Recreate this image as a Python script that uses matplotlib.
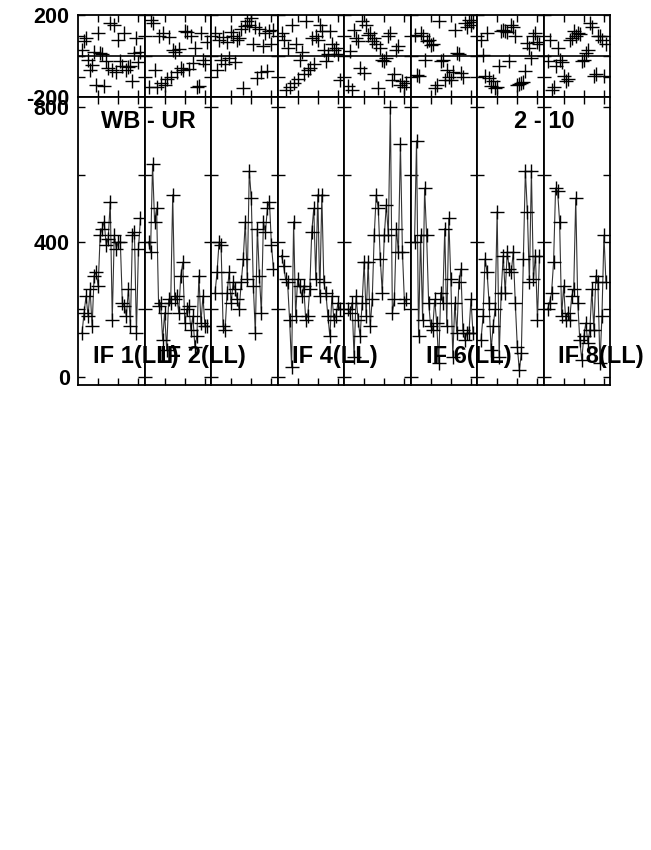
import matplotlib
matplotlib.use("Agg")
import matplotlib.pyplot as plt
import numpy as np

plt.rcParams['font.family'] = ['Liberation Sans', 'DejaVu Sans']
plt.rcParams['font.weight'] = 'bold'

channels = list(range(2, 32))

amp_if1 = [130, 190, 240, 180, 260, 150, 300, 310, 270, 420, 440, 460, 390, 410, 520,
           170, 420, 380, 400, 400, 220, 210, 180, 260, 150, 420, 430, 130, 380, 470]
amp_if2 = [400, 370, 630, 460, 500, 210, 220, 110, 190, 80, 230, 220, 540, 230, 240,
           190, 300, 340, 160, 200, 210, 140, 180, 90, 120, 300, 160, 240, 150, 150]
amp_if3 = [250, 310, 400, 390, 150, 140, 250, 310, 220, 280, 260, 230, 200, 280, 350,
           460, 290, 610, 530, 270, 130, 440, 300, 190, 460, 430, 500, 520, 390, 320]
amp_if4 = [360, 330, 290, 280, 170, 30, 460, 180, 290, 270, 240, 270, 170, 180, 260,
           430, 500, 290, 540, 240, 540, 280, 250, 180, 120, 240, 170, 180, 220, 200]
amp_if5 = [200, 190, 220, 60, 240, 170, 120, 220, 340, 180, 340, 150, 230, 420, 540,
           500, 350, 250, 420, 510, 420, 800, 190, 230, 440, 370, 690, 370, 220, 230]
amp_if6 = [400, 700, 120, 420, 170, 560, 420, 220, 150, 140, 230, 160, 40, 250, 220,
           440, 150, 470, 290, 60, 220, 130, 280, 320, 140, 110, 130, 130, 230, 130]
amp_if7 = [110, 180, 350, 310, 220, 80, 150, 200, 490, 60, 250, 360, 250, 370, 320,
           310, 370, 220, 90, 20, 70, 350, 610, 490, 280, 610, 290, 360, 170, 360]
amp_if8 = [200, 220, 250, 340, 560, 550, 460, 180, 270, 170, 190, 170, 240, 260, 530,
           220, 110, 50, 120, 160, 100, 140, 260, 140, 300, 280, 40, 180, 420, 280]

ph_if1 = [31, 72, 88, -20, -67, -42, 20, -140, 112, 15, 10, -148, -26, -60, 161,
          -67, 153, -80, 80, -26, -50, 112, -70, -55, -50, -120, 15, 88, -30, 20]
ph_if2 = [-150, 175, 160, -70, -150, 100, -130, 112, -140, -110, 95, -100, 31, 20, -80,
          35, -60, -70, 120, 115, -65, 100, -35, 40, -150, -145, 110, -20, -40, 70]
ph_if3 = [112, -67, 80, -18, 95, -40, 70, -10, 115, 100, -30, 80, 90, 130, -156,
          145, 170, 150, 185, 60, 140, -107, 130, -80, 50, 110, -75, 120, 60, 125]
ph_if4 = [110, 80, -165, 40, -150, 150, -130, 60, -110, -20, 20, -90, 170, -70, -60,
          90, -40, 100, 80, 150, 120, 30, -25, 10, 120, 60, 30, 40, 10, -115]
ph_if5 = [-148, 23, -164, 128, 90, 72, -60, 169, -83, 150, 104, 110, 72, 90, 60,
          -156, 39, -18, -25, -10, 96, 110, -115, -90, 31, 50, -140, -120, -150, -130]
ph_if6 = [104, -91, -99, 112, 100, -18, 72, 80, 55, 60, -156, -140, 169, -26, -20,
          -115, -67, -100, -115, -80, 128, 15, 10, -83, -100, 161, 140, 177, 150, 165]
ph_if7 = [80, 7, -99, 112, -107, -148, -120, -156, -150, -50, 120, 128, 120, 115, -26,
          153, 140, 96, -140, -135, -130, -125, -75, 63, 40, -10, 96, 110, 70, 60]
ph_if8 = [-26, 80, -164, -150, -50, 39, -18, -30, -99, -124, -110, 80, 90, 120, 100,
          112, 105, -26, -20, 15, 30, 161, 140, -99, -90, 96, 100, 80, -99, 60]

amps = [amp_if1, amp_if2, amp_if3, amp_if4, amp_if5, amp_if6, amp_if7, amp_if8]
phases = [ph_if1, ph_if2, ph_if3, ph_if4, ph_if5, ph_if6, ph_if7, ph_if8]
if_labels = ["IF 1(LL)", "IF 2(LL)", "", "IF 4(LL)", "", "IF 6(LL)", "", "IF 8(LL)"]

amp_ticks = [0, 200, 400, 600, 800]
amp_ticklabels = ["0", "", "400", "", "800"]
ph_ticks = [-200, -100, 0, 100, 200]
ph_ticklabels = ["-200", "", "", "", "200"]
x_ticks = [10, 20, 30]

W, H = 651, 850
fig = plt.figure(figsize=(W / 100, H / 100), dpi=100)

left_px, right_px = 78, 610
pw = (right_px - left_px) / 8
top_ph, bot_ph = 15, 97
top_amp, bot_amp = 97, 385

def style(ax):
    for s in ax.spines.values():
        s.set_linewidth(1.3)
        s.set_color('black')
    ax.tick_params(direction='in', top=True, right=True, length=5, width=1.0,
                   labelsize=15.5, pad=6)
    ax.set_xticks(x_ticks)
    ax.set_xticklabels([])

for i in range(8):
    x0 = left_px + i * pw
    axp = fig.add_axes([x0 / W, 1 - bot_ph / H, pw / W, (bot_ph - top_ph) / H])
    axa = fig.add_axes([x0 / W, 1 - bot_amp / H, pw / W, (bot_amp - top_amp) / H])

    axp.plot(channels, phases[i], linestyle='none', marker='+', color='black',
             markersize=10, markeredgewidth=1.0)
    axp.axhline(0, color='black', lw=1.2)
    axp.set_xlim(0, 33)
    axp.set_ylim(-200, 200)
    style(axp)
    axp.set_yticks(ph_ticks)

    axa.plot(channels, amps[i], color='#333333', lw=0.8, marker='+',
             markersize=10, markeredgewidth=1.0, markeredgecolor='black')
    axa.set_xlim(0, 33)
    axa.set_ylim(-24, 830)
    style(axa)
    axa.set_yticks(amp_ticks)

    if i == 0:
        axp.set_yticklabels(ph_ticklabels, fontweight='bold')
        axa.set_yticklabels(amp_ticklabels, fontweight='bold')
    else:
        axp.set_yticklabels([])
        axa.set_yticklabels([])

    if if_labels[i]:
        fig.text((x0 + 15) / W, 1 - 357 / H, if_labels[i], fontsize=17,
                 fontweight='bold', ha='left', va='center')

fig.text(101 / W, 1 - 122 / H, "WB - UR", fontsize=17, fontweight='bold',
         ha='left', va='center')
fig.text(514 / W, 1 - 122 / H, "2 - 10", fontsize=17, fontweight='bold',
         ha='left', va='center')

fig.savefig("out.png", dpi=100)
